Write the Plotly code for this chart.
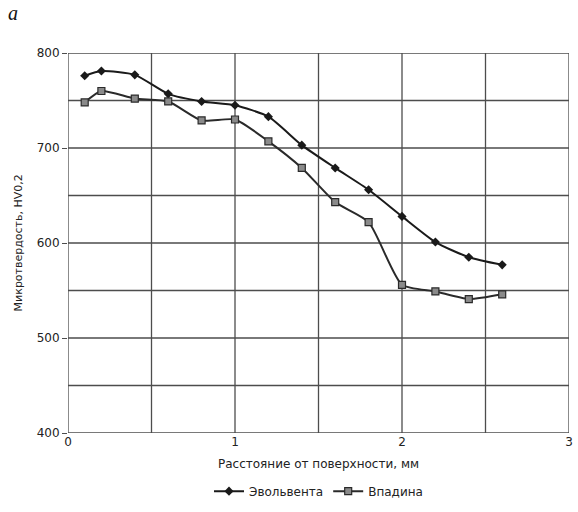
import plotly.graph_objects as go

x_vals = [0.1, 0.2, 0.4, 0.6, 0.8, 1.0, 1.2, 1.4, 1.6, 1.8, 2.0, 2.2, 2.4, 2.6]
evolventa = [776, 781, 777, 757, 749, 745, 733, 703, 679, 656, 628, 601, 585, 577]
vpadina = [748, 760, 752, 749, 729, 730, 707, 679, 643, 622, 556, 549, 541, 546]
x_ticks = [0, 1, 2, 3]
y_ticks = [400, 500, 600, 700, 800]

fig = go.Figure()
fig.add_trace(go.Scatter(
    x=x_vals, y=evolventa, name="Эвольвента", mode="lines+markers",
    line=dict(color="#1a1a1a", width=2, shape="spline", smoothing=0.6),
    marker=dict(symbol="diamond", size=7, color="#1a1a1a"),
))
fig.add_trace(go.Scatter(
    x=x_vals, y=vpadina, name="Впадина", mode="lines+markers",
    line=dict(color="#2a2a2a", width=2, shape="spline", smoothing=0.6),
    marker=dict(symbol="square", size=7, color="#8a8a8a", line=dict(color="#2a2a2a", width=1.2)),
))

grid = "#4d4d4d"
fnt = "DejaVu Sans, Arial, sans-serif"
fig.update_layout(
    width=578, height=512,
    margin=dict(l=68, r=5, t=53, b=79),
    paper_bgcolor="white", plot_bgcolor="white",
    font=dict(family=fnt, size=12, color="#222"),
    showlegend=True,
    legend=dict(orientation="h", x=0.5, xanchor="center", y=-0.153, yanchor="middle",
                font=dict(size=12), tracegroupgap=0),
    xaxis=dict(range=[0, 3], tickvals=x_ticks, showgrid=False,
               ticks="", zeroline=False, showline=False, tickfont=dict(size=12)),
    yaxis=dict(range=[400, 800], tickvals=y_ticks, showgrid=False, ticks="outside",
               ticklen=5, tickcolor=grid, zeroline=False, showline=False, tickfont=dict(size=12)),
    annotations=[
        dict(text="Расстояние от поверхности, мм", xref="paper", yref="paper",
             x=0.5, y=-31 / 380, xanchor="center", yanchor="middle", showarrow=False,
             font=dict(size=12)),
        dict(text="Микротвердость, HV0,2", xref="paper", yref="paper",
             x=-50 / 505, y=0.5, xanchor="center", yanchor="middle", showarrow=False,
             textangle=-90, font=dict(size=11)),
        dict(text="<i>a</i>", xref="paper", yref="paper", x=-55 / 505, y=1 + 40 / 380,
             xanchor="center", yanchor="middle", showarrow=False,
             font=dict(family="Liberation Serif, Times New Roman, serif", size=20, color="#111")),
    ],
)

# grid lines every 0.5 in x and 50 in y, drawn from the axis scales
shapes = []
gx = [i * 0.5 for i in range(0, 7)]
gy = [400 + 50 * i for i in range(0, 9)]
for v in gx:
    shapes.append(dict(type="line", xref="x", yref="paper", x0=v, x1=v, y0=0, y1=1,
                       line=dict(color=grid, width=1.3), layer="below"))
for v in gy:
    shapes.append(dict(type="line", xref="paper", yref="y", x0=0, x1=1, y0=v, y1=v,
                       line=dict(color=grid, width=1.3), layer="below"))
fig.update_layout(shapes=shapes)

fig.write_html("out.html")
